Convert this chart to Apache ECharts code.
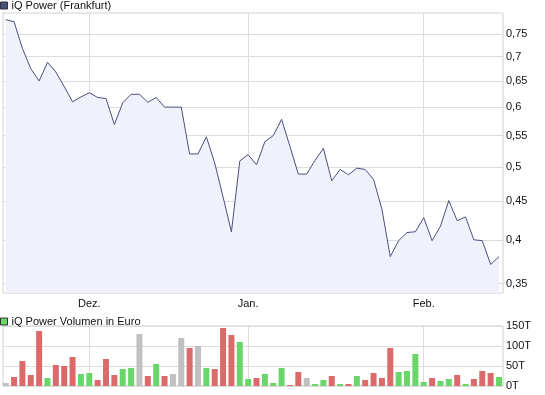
<!DOCTYPE html>
<html>
<head>
<meta charset="utf-8">
<script src="https://cdn.jsdelivr.net/npm/echarts@6/dist/echarts.min.js"></script>
<style>
html,body{margin:0;padding:0;background:#fff;}
#c{width:545px;height:395px;}
</style>
</head>
<body>
<div id="c"></div>
<script>
// ---- data ----
const priceName = 'iQ Power (Frankfurt)';
const volumeName = 'iQ Power Volumen in Euro';
const prices = [0.784,0.779,0.718,0.675,0.650,0.688,0.668,0.639,0.610,0.619,
                0.627,0.618,0.616,0.569,0.608,0.624,0.624,0.609,0.618,0.600,
                0.600,0.600,0.520,0.520,0.548,0.506,0.456,0.410,0.509,0.519,
                0.503,0.540,0.550,0.578,0.532,0.489,0.489,0.510,0.529,0.479,
                0.496,0.488,0.498,0.496,0.481,0.439,0.380,0.399,0.409,0.410,
                0.428,0.399,0.417,0.451,0.424,0.429,0.400,0.399,0.371,0.380];
const volumes = [7.5,22.5,62.5,27.5,137.5,20,52.5,50,72.5,30,
                 32.5,15,67.5,27.5,42.5,45,130,25,55,25,
                 30,120,95,100,45,42.5,145,127.5,110,17.5,
                 20,30,7.5,45,2.5,35,20,5,15,25,
                 5,5,25,15,32.5,20,95,35,37.5,80,
                 10,20,12.5,17.5,27.5,5,17.5,37.5,32.5,22.5]; // in thousand euro
const monthTickIdx = [10, 29, 50];
const monthTickNames = ['Dez.', 'Jan.', 'Feb.'];
const priceTicks = [0.35, 0.4, 0.45, 0.5, 0.55, 0.6, 0.65, 0.7, 0.75];
const volumeTicks = [0, 50, 100, 150];

// ---- build ----
const UP = '#6ad66a', DOWN = '#dc6a6a', FLAT = '#c0c0c0';
const LINE = '#4b4f7d';
const priceData = prices.map((v, i) => [i, v]);
const volData = volumes.map((v, i) => {
  let col = FLAT;
  if (i > 0 && prices[i] > prices[i - 1]) col = UP;
  else if (i > 0 && prices[i] < prices[i - 1]) col = DOWN;
  return { value: [i, v], itemStyle: { color: col } };
});
const FONT = 'Liberation Sans';
const gridLine = { show: true, lineStyle: { color: '#dcdcdc', width: 1 } };
const xCommon = {
  type: 'value', min: -0.32, max: 59.48,
  axisLine: { show: false }, axisTick: { show: false, customValues: monthTickIdx },
  splitLine: gridLine
};

const chart = echarts.init(document.getElementById('c'), null, { renderer: 'canvas' });
chart.setOption({
  animation: false,
  backgroundColor: '#fff',
  textStyle: { fontFamily: FONT },
  legend: [
    { left: 0, top: 0, padding: 0, itemWidth: 7, itemHeight: 7, itemGap: 10,
      selectedMode: false,
      itemStyle: { borderColor: '#333', borderWidth: 1 },
      textStyle: { fontFamily: FONT, fontSize: 11, color: '#111', padding: [0, 0, 0, -1] },
      data: [{ name: priceName, icon: 'rect' }] },
    { left: 0, top: 316, padding: 0, itemWidth: 7, itemHeight: 7,
      selectedMode: false,
      itemStyle: { borderColor: '#333', borderWidth: 1 },
      textStyle: { fontFamily: FONT, fontSize: 11, color: '#111', padding: [0, 0, 0, -1] },
      data: [{ name: volumeName, icon: 'rect' }] }
  ],
  grid: [
    { left: 3, right: 42, top: 13, height: 280, show: true, borderColor: '#d0d0d0', borderWidth: 1,
      backgroundColor: 'transparent', outerBoundsMode: 'none', containLabel: false },
    { left: 3, right: 42, top: 326, height: 60, show: true, borderColor: '#d0d0d0', borderWidth: 1,
      backgroundColor: 'transparent', outerBoundsMode: 'none', containLabel: false }
  ],
  xAxis: [
    Object.assign({ gridIndex: 0,
      axisLabel: { show: true, customValues: monthTickIdx, margin: 5,
        fontFamily: FONT, fontSize: 11, color: '#111',
        formatter: v => monthTickNames[monthTickIdx.indexOf(Math.round(v))] || '' } }, xCommon),
    Object.assign({ gridIndex: 1, axisLabel: { show: false } }, xCommon)
  ],
  yAxis: [
    { gridIndex: 0, type: 'log', logBase: 10, min: 0.34, max: 0.8, position: 'right',
      axisLine: { show: false }, axisTick: { show: false, customValues: priceTicks },
      splitLine: gridLine,
      axisLabel: { customValues: priceTicks, margin: 3, fontFamily: FONT, fontSize: 11, color: '#111',
        formatter: v => String(+(+v).toFixed(2)).replace('.', ',') } },
    { gridIndex: 1, type: 'value', min: 0, max: 150, interval: 50, position: 'right',
      axisLine: { show: false }, axisTick: { show: false },
      splitLine: gridLine,
      axisLabel: { margin: 3, fontFamily: FONT, fontSize: 11, color: '#111',
        formatter: v => v + 'T' } }
  ],
  series: [
    { name: priceName, type: 'line', xAxisIndex: 0, yAxisIndex: 0, data: priceData,
      showSymbol: false, symbol: 'none',
      itemStyle: { color: LINE },
      lineStyle: { color: LINE, width: 1 },
      areaStyle: { color: '#f1f1fc', opacity: 1, origin: 'start' } },
    { name: volumeName, type: 'bar', xAxisIndex: 1, yAxisIndex: 1, data: volData,
      barWidth: 6, itemStyle: { color: UP } }
  ]
});
</script>
</body>
</html>
